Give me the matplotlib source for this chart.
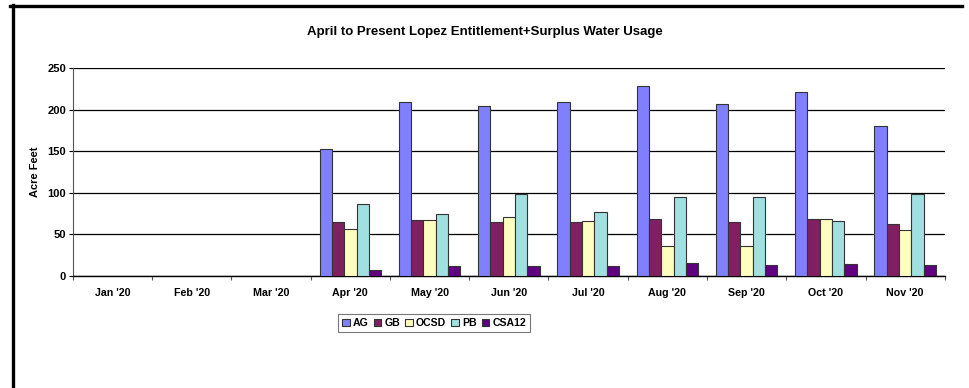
import numpy as np
import matplotlib
matplotlib.use("Agg")
import matplotlib.pyplot as plt
from matplotlib.lines import Line2D

plt.rcParams['font.family'] = ['Liberation Sans', 'DejaVu Sans']
plt.rcParams['font.weight'] = 'bold'

months = ["Jan '20", "Feb '20", "Mar '20", "Apr '20", "May '20", "Jun '20",
          "Jul '20", "Aug '20", "Sep '20", "Oct '20", "Nov '20"]
series_names = ["AG", "GB", "OCSD", "PB", "CSA12"]
ag = [0, 0, 0, 153, 209, 204, 209, 228, 207, 221, 180]
gb = [0, 0, 0, 64.5, 67, 64.5, 64.5, 69, 64.5, 69, 63]
ocsd = [0, 0, 0, 57, 67, 70.5, 65.5, 36, 36, 69, 55]
pb = [0, 0, 0, 86, 74, 99, 77.5, 95.5, 94.5, 65.5, 98]
csa12 = [0, 0, 0, 7, 12, 12, 12, 15.5, 13, 14.5, 13]
colors = ["#8080FF", "#802060", "#FFFFC0", "#A0E0E0", "#600080"]

values = [ag, gb, ocsd, pb, csa12]

fig = plt.figure(figsize=(9.69, 3.88), dpi=100)
ax = fig.add_axes([0.0753, 0.2887, 0.8997, 0.536])

x = np.arange(len(months))
w = 0.155
for i, (name, vals, c) in enumerate(zip(series_names, values, colors)):
    v = np.array(vals, dtype=float)
    mask = v > 0
    ax.bar(x[mask] + (i - 2) * w, v[mask], width=w, color=c,
           edgecolor="#333333", linewidth=0.8, label=name, zorder=3)

ax.set_xlim(-0.5, len(months) - 0.5)
ax.set_ylim(0, 250)
ax.set_yticks([0, 50, 100, 150, 200, 250])
ax.yaxis.grid(True, color="black", linewidth=0.9, zorder=0)
ax.set_axisbelow(True)

ax.set_xticks(x)
ax.set_xticklabels(months, fontsize=7.7, fontweight='bold')
ax.set_xticks(np.arange(-0.5, len(months)), minor=True)
ax.tick_params(axis='x', which='major', length=0, pad=9)
ax.tick_params(axis='x', which='minor', length=3, width=0.8, color="#555555")
ax.tick_params(axis='y', labelsize=8, length=3, width=0.8, pad=2)
for lbl in ax.get_yticklabels():
    lbl.set_fontweight('bold')

for s in ['top', 'right']:
    ax.spines[s].set_visible(False)
ax.spines['left'].set_color("#555555")
ax.spines['bottom'].set_color("black")
ax.spines['left'].set_linewidth(0.8)
ax.spines['bottom'].set_linewidth(1.0)

ax.set_ylabel("Acre Feet", fontsize=8, fontweight='bold', labelpad=5)
fig.text(0.5, 0.918, "April to Present Lopez Entitlement+Surplus Water Usage",
         ha='center', va='center', fontsize=9.5, fontweight='bold')

leg = fig.legend(loc='center', bbox_to_anchor=(0.448, 0.167), ncol=5,
                 frameon=True, fancybox=False, edgecolor="#555555",
                 handlelength=0.7, handleheight=0.7, handletextpad=0.3,
                 columnspacing=0.5, borderpad=0.4, prop={'weight': 'bold', 'size': 7.6})
leg.get_frame().set_linewidth(0.8)

# frame borders (top and left) like the source screenshot
fig.add_artist(Line2D([10 / 969, 962 / 969], [1 - 5.5 / 388, 1 - 5.5 / 388],
                      color="black", linewidth=2.4, transform=fig.transFigure))
fig.add_artist(Line2D([12.5 / 969, 12.5 / 969], [1 - 5 / 388, 0],
                      color="black", linewidth=2.4, transform=fig.transFigure))

fig.savefig("out.png", dpi=100)
